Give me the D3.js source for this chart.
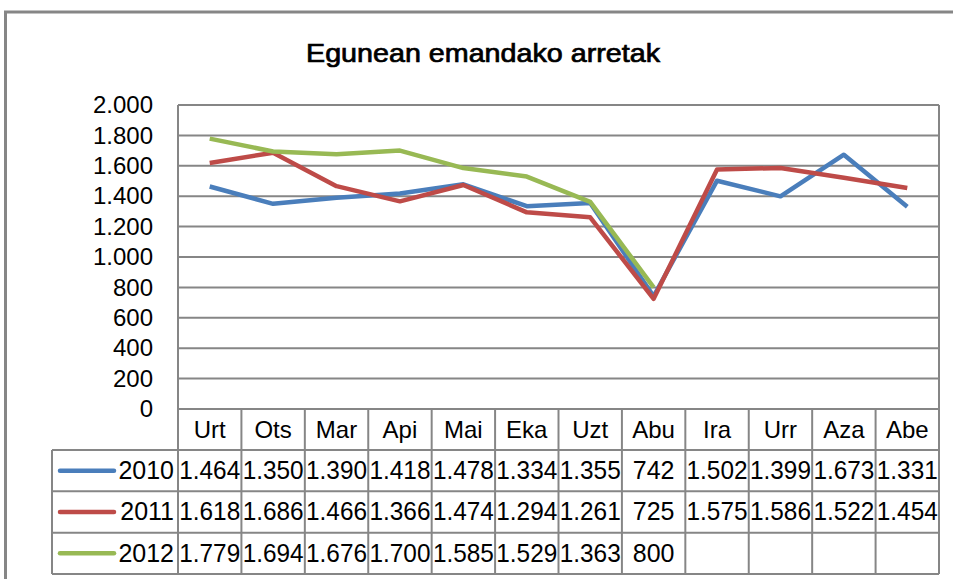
<!DOCTYPE html>
<html>
<head>
<meta charset="utf-8">
<script src="https://cdn.jsdelivr.net/npm/d3@7"></script>
<style>
  body { margin: 0; background: #fff; }
  text { font-family: "Liberation Sans", Arial, sans-serif; fill: #000; }
</style>
</head>
<body>
<div id="chart"></div>
<script>
// Data
const months = ["Urt", "Ots", "Mar", "Api", "Mai", "Eka", "Uzt", "Abu", "Ira", "Urr", "Aza", "Abe"];
const years = ["2010", "2011", "2012"];
const values2010 = [1464, 1350, 1390, 1418, 1478, 1334, 1355, 742, 1502, 1399, 1673, 1331];
const values2011 = [1618, 1686, 1466, 1366, 1474, 1294, 1261, 725, 1575, 1586, 1522, 1454];
const values2012 = [1779, 1694, 1676, 1700, 1585, 1529, 1363, 800];
const yTicks = [0, 200, 400, 600, 800, 1000, 1200, 1400, 1600, 1800, 2000];
const colors = ["#4A7EBB", "#BE4B48", "#98B954"];

const series = [values2010, values2011, values2012];

const width = 953, height = 579;
const gridColor = "#868686";

const svg = d3.select("#chart").append("svg")
    .attr("width", width)
    .attr("height", height);

// outer chart border (runs off right and bottom edges)
svg.append("rect")
    .attr("x", 5.5).attr("y", 12)
    .attr("width", 1000).attr("height", 1000)
    .attr("fill", "#fff")
    .attr("stroke", gridColor)
    .attr("stroke-width", 3);

// plot area
const plotLeft = 178, plotRight = 939, plotTop = 105, plotBottom = 409;

const x = d3.scaleBand().domain(months).range([plotLeft, plotRight]);
const y = d3.scaleLinear().domain([0, 2000]).range([plotBottom, plotTop]);

const locale = d3.formatLocale({ decimal: ",", thousands: ".", grouping: [3], currency: ["", "€"] });
const fmt = locale.format(",");

// title
svg.append("text")
    .attr("x", 483).attr("y", 62)
    .attr("text-anchor", "middle")
    .attr("font-size", 25)
    .attr("stroke", "#000")
    .attr("stroke-width", 0.7)
    .attr("textLength", 354)
    .attr("lengthAdjust", "spacingAndGlyphs")
    .text("Egunean emandako arretak");

// gridlines
svg.append("g")
    .selectAll("line")
    .data(yTicks.filter(d => d > 0))
    .join("line")
    .attr("x1", plotLeft).attr("x2", plotRight)
    .attr("y1", d => y(d)).attr("y2", d => y(d))
    .attr("stroke", gridColor)
    .attr("stroke-width", 2);

// plot sides
svg.append("line")
    .attr("x1", plotLeft).attr("x2", plotLeft)
    .attr("y1", plotTop).attr("y2", plotBottom)
    .attr("stroke", gridColor).attr("stroke-width", 2);
svg.append("line")
    .attr("x1", plotRight).attr("x2", plotRight)
    .attr("y1", plotTop).attr("y2", plotBottom)
    .attr("stroke", gridColor).attr("stroke-width", 2);

// y axis labels
const yAxis = d3.axisLeft(y).tickValues(yTicks).tickFormat(fmt).tickSize(0).tickPadding(25);
const yG = svg.append("g")
    .attr("transform", `translate(${plotLeft},0)`)
    .call(yAxis);
yG.select(".domain").remove();
yG.selectAll("text")
    .attr("font-size", 24)
    .attr("font-family", "Liberation Sans, Arial, sans-serif")
    .attr("fill", "#000");

// lines
const line = d3.line()
    .x((d, i) => x(months[i]) + x.bandwidth() / 2)
    .y(d => y(d));

series.forEach((vals, k) => {
    svg.append("path")
        .datum(vals)
        .attr("fill", "none")
        .attr("stroke", colors[k])
        .attr("stroke-width", 4.5)
        .attr("stroke-linejoin", "round")
        .attr("d", line);
});

// data table
const tableLeft = 52, headerTop = plotBottom, rowsTop = 450, tableBottom = 574;
const rowH = (tableBottom - rowsTop) / years.length;
const table = svg.append("g");

// horizontal lines
table.append("line")
    .attr("x1", plotLeft).attr("x2", plotRight)
    .attr("y1", headerTop).attr("y2", headerTop)
    .attr("stroke", gridColor).attr("stroke-width", 2);
d3.range(years.length + 1).forEach(i => {
    table.append("line")
        .attr("x1", tableLeft).attr("x2", plotRight)
        .attr("y1", rowsTop + i * rowH).attr("y2", rowsTop + i * rowH)
        .attr("stroke", gridColor).attr("stroke-width", 2);
});
// vertical lines
months.forEach(m => {
    table.append("line")
        .attr("x1", x(m)).attr("x2", x(m))
        .attr("y1", headerTop).attr("y2", tableBottom)
        .attr("stroke", gridColor).attr("stroke-width", 2);
});
table.append("line")
    .attr("x1", plotRight).attr("x2", plotRight)
    .attr("y1", headerTop).attr("y2", tableBottom)
    .attr("stroke", gridColor).attr("stroke-width", 2);
table.append("line")
    .attr("x1", tableLeft).attr("x2", tableLeft)
    .attr("y1", rowsTop).attr("y2", tableBottom)
    .attr("stroke", gridColor).attr("stroke-width", 2);

// header
table.selectAll(".hdr")
    .data(months)
    .join("text")
    .attr("class", "hdr")
    .attr("x", d => x(d) + x.bandwidth() / 2)
    .attr("y", headerTop + 29)
    .attr("text-anchor", "middle")
    .attr("font-size", 24)
    .text(d => d);

// rows
years.forEach((yr, k) => {
    const top = rowsTop + k * rowH;
    table.append("line")
        .attr("x1", 60).attr("x2", 114)
        .attr("y1", top + rowH / 2).attr("y2", top + rowH / 2)
        .attr("stroke", colors[k])
        .attr("stroke-width", 4.5)
        .attr("stroke-linecap", "round");
    table.append("text")
        .attr("x", 174)
        .attr("y", top + 29)
        .attr("text-anchor", "end")
        .attr("font-size", 25)
        .text(yr);
    table.selectAll(".v" + k)
        .data(series[k])
        .join("text")
        .attr("class", "v" + k)
        .attr("x", (d, i) => x(months[i]) + x.bandwidth() / 2)
        .attr("y", top + 29)
        .attr("text-anchor", "middle")
        .attr("font-size", 25)
        .attr("textLength", d => d >= 1000 ? 61 : null)
        .attr("lengthAdjust", "spacingAndGlyphs")
        .text(d => fmt(d));
});
</script>
</body>
</html>
